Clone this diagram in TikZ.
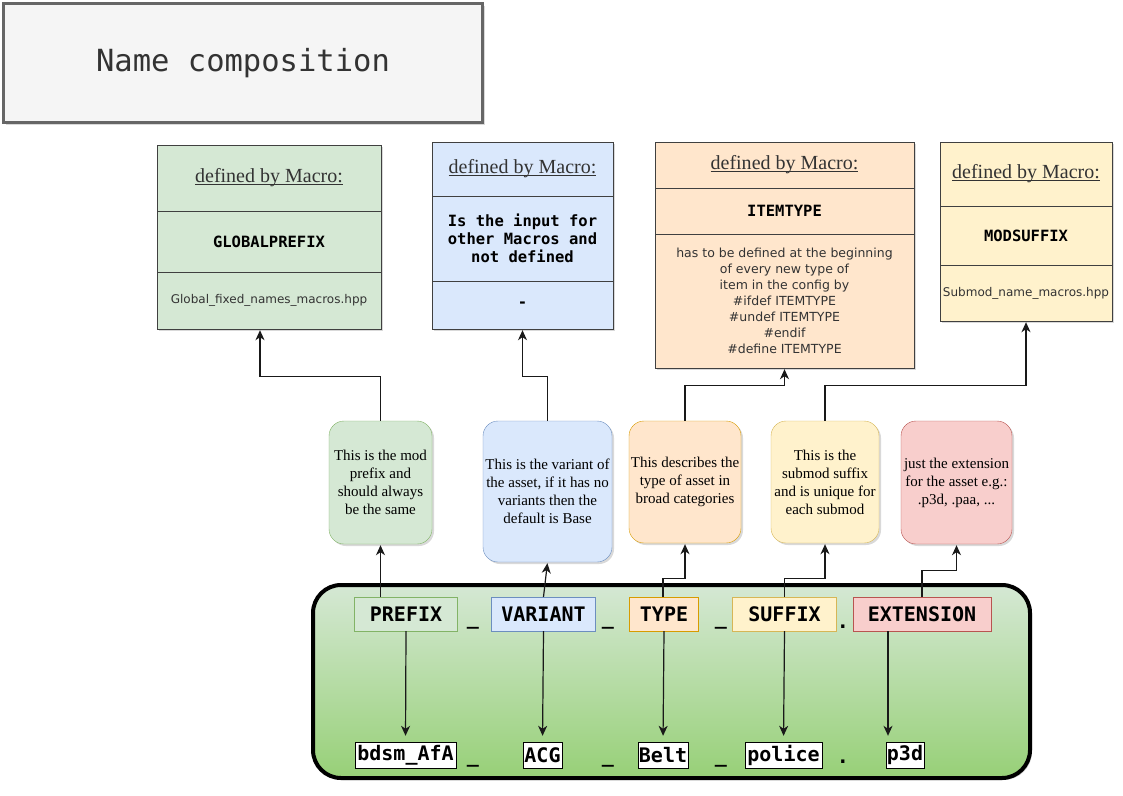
\documentclass[tikz,border=0pt]{standalone}
\usepackage{fontspec}
\setmainfont{Liberation Serif}
\setsansfont{DejaVu Sans}
\setmonofont{DejaVu Sans Mono}
\usetikzlibrary{arrows.meta,shadows}

\definecolor{gfill}{HTML}{D5E8D4}
\definecolor{gline}{HTML}{82B366}
\definecolor{bfill}{HTML}{DAE8FC}
\definecolor{bline}{HTML}{6C8EBF}
\definecolor{ofill}{HTML}{FFE6CC}
\definecolor{oline}{HTML}{D79B00}
\definecolor{yfill}{HTML}{FFF2CC}
\definecolor{yline}{HTML}{D6B656}
\definecolor{rfill}{HTML}{F8CECC}
\definecolor{rline}{HTML}{B85450}
\definecolor{gdark}{HTML}{97D077}
\definecolor{tfill}{HTML}{F5F5F5}
\definecolor{tline}{HTML}{666666}
\definecolor{txt}{HTML}{333333}

% underline sitting just under the baseline
\newcommand\macroline[1]{\setbox0\hbox{#1}\rlap{\rule[-2.5pt]{\wd0}{0.9pt}}\box0}

\begin{document}
\begin{tikzpicture}[x=1pt, y=-1pt, align=center,
  shadowed/.style={drop shadow={shadow xshift=2pt, shadow yshift=-2pt, opacity=0.3}},
  sect/.style={draw=black!75, shadowed, inner sep=0pt, text=txt},
  hdr/.style={sect, font=\fontsize{20}{24}\selectfont},
  mac/.style={sect, text=black, font=\ttfamily\bfseries\fontsize{15.5}{18}\selectfont},
  src/.style={sect, font=\sffamily\fontsize{12}{16}\selectfont},
  note/.style={rounded corners=15pt, shadowed, inner sep=0pt, font=\fontsize{15}{18}\selectfont},
  label/.style={font=\ttfamily\bfseries\fontsize{20}{24}\selectfont, minimum height=34, inner sep=0pt},
  value/.style={draw=black, fill=white, font=\ttfamily\bfseries\fontsize{20}{24}\selectfont, minimum height=26, inner sep=0pt},
  sepmark/.style={font=\ttfamily\bfseries\fontsize{20}{24}\selectfont, inner sep=0pt, anchor=base},
  conn/.style={-{Stealth[length=10pt,width=9pt,inset=3pt]}, line width=1.2pt, draw=black!90, shorten >=1pt}]

\useasboundingbox (0,0) rectangle (1123,795);

% Title
\node[draw=tline, line width=3pt, fill=tfill, shadowed, minimum width=479, minimum height=119,
  text=txt, font=\ttfamily\fontsize{30.5}{36}\selectfont] (title) at (243,63) {Name composition};

% Macro boxes
\node[hdr, fill=gfill, minimum width=224, minimum height=66] (gHead) at (269,178) {\macroline{defined by Macro:}};
\node[mac, fill=gfill, minimum width=224, minimum height=61] (gMid) at (269,241.5) {GLOBALPREFIX};
\node[src, fill=gfill, minimum width=224, minimum height=57] (gFoot) at (269,300.5) {Global\_fixed\_names\_macros.hpp};

\node[hdr, fill=bfill, minimum width=181, minimum height=54] (bHead) at (522.5,169) {\macroline{defined by Macro:}};
\node[mac, fill=bfill, minimum width=181, minimum height=85] (bMid) at (522.5,238.5) {Is the input for\\other Macros and\\not defined};
\node[mac, fill=bfill, minimum width=181, minimum height=48] (bFoot) at (522.5,305) {-};

\node[hdr, fill=ofill, minimum width=259, minimum height=46] (oHead) at (784.5,165) {\macroline{defined by Macro:}};
\node[mac, fill=ofill, minimum width=259, minimum height=46] (oMid) at (784.5,211) {ITEMTYPE};
\node[src, fill=ofill, minimum width=259, minimum height=134, font=\sffamily\fontsize{12.5}{16}\selectfont] (oFoot) at (784.5,301)
  {has to be defined at the beginning\\of every new type of\\item in the config by\\\#ifdef ITEMTYPE\\\#undef ITEMTYPE\\\#endif\\\#define ITEMTYPE};

\node[hdr, fill=yfill, minimum width=172, minimum height=64] (yHead) at (1026,174) {\macroline{defined by Macro:}};
\node[mac, fill=yfill, minimum width=172, minimum height=59] (yMid) at (1026,235.5) {MODSUFFIX};
\node[src, fill=yfill, minimum width=172, minimum height=56] (yFoot) at (1026,293) {Submod\_name\_macros.hpp};

% Notes
\node[note, draw=gline, fill=gfill, minimum width=103, minimum height=123] (nPre) at (380.5,482.5)
  {This is the mod\\prefix and\\should always\\be the same};
\node[note, draw=bline, fill=bfill, minimum width=129, minimum height=141] (nVar) at (547.5,491.5)
  {This is the variant of\\the asset, if it has no\\variants then the\\default is Base};
\node[note, draw=oline, fill=ofill, minimum width=112, minimum height=122] (nType) at (685,482)
  {This describes the\\type of asset in\\broad categories};
\node[note, draw=yline, fill=yfill, minimum width=108, minimum height=122] (nSuf) at (825,482)
  {This is the\\submod suffix\\and is unique for\\each submod};
\node[note, draw=rline, fill=rfill, minimum width=111, minimum height=123] (nExt) at (956.5,482.5)
  {just the extension\\for the asset e.g.:\\.p3d, .paa, ...};

% Name frame
\node[draw=black, line width=4pt, rounded corners=28pt, top color=gfill, bottom color=gdark, shadowed,
  minimum width=717, minimum height=193] (frame) at (671.5,681.5) {};

% Name parts
\node[label, draw=gline, fill=gfill, minimum width=103] (prefix) at (406,614) {PREFIX};
\node[label, draw=bline, fill=bfill, minimum width=104] (variant) at (543.5,614) {VARIANT};
\node[label, draw=oline, fill=ofill, minimum width=69] (type) at (664,614) {TYPE};
\node[label, draw=yline, fill=yfill, minimum width=104] (suffix) at (784.5,614) {SUFFIX};
\node[label, draw=rline, fill=rfill, minimum width=138] (ext) at (922,614) {EXTENSION};

% Example values
\node[value, minimum width=101] (vPre) at (405.5,755) {bdsm\_AfA};
\node[value, minimum width=39] (vVar) at (542.5,755) {ACG};
\node[value, minimum width=50] (vType) at (663,755) {Belt};
\node[value, minimum width=77] (vSuf) at (783.5,755) {police};
\node[value, minimum width=38] (vExt) at (905,755) {p3d};

% Separators
\foreach \x [count=\i] in {473,608,721} {
  \node[sepmark] (s\i) at (\x,624) {\_};
  \node[sepmark] (t\i) at (\x,762) {\_};
}
\node[sepmark] (s4) at (843,628) {.};
\node[sepmark] (t4) at (843,763) {.};

% Parts to notes
\draw[conn] (nPre.south |- prefix.north) -- (nPre.south);
\draw[conn] (variant.north) -- (nVar.south);
\draw[conn] ([shift={(-1,0)}]type.north) -- ++(0,-18) -| (nType.south);
\draw[conn] (suffix.north) -- ++(0,-18) -| (nSuf.south);
\draw[conn] (ext.north) -- ++(0,-26) -| (nExt.south);

% Notes to macros
\draw[conn] (nPre.north) -- ++(0,-44) -| ([shift={(-9,0)}]gFoot.south);
\draw[conn] (nVar.north) -- ++(0,-44) -| (bFoot.south);
\draw[conn] (nType.north) -- ++(0,-35) -| (oFoot.south);
\draw[conn] (nSuf.north) -- ++(0,-35) -| (yFoot.south);

% Parts to values
\draw[conn, shorten >=6pt] (prefix.south) -- (vPre.north);
\draw[conn, shorten >=6pt] (variant.south) -- (vVar.north);
\draw[conn, shorten >=6pt] (type.south) -- (vType.north);
\draw[conn, shorten >=6pt] (suffix.south) -- (vSuf.north);
\draw[conn, shorten >=6pt] ([shift={(-34,0)}]ext.south) -- ([shift={(-34,0)}]ext.south |- vExt.north);

\end{tikzpicture}
\end{document}
